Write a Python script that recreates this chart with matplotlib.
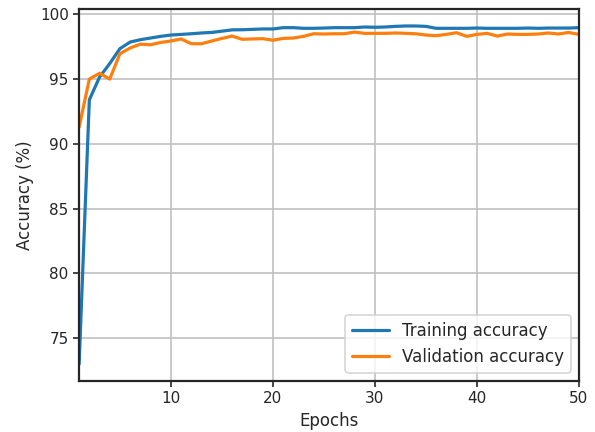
import numpy as np
import matplotlib
matplotlib.use("Agg")
import matplotlib.pyplot as plt
import seaborn as sns

sns.set_style("ticks", {"axes.grid": True})
sns.set_context("notebook")

epochs = list(range(1, 51))
train_acc = [73.0, 93.4, 95.15, 96.2, 97.35, 97.86, 98.04, 98.17, 98.3, 98.4,
             98.45, 98.5, 98.56, 98.6, 98.7, 98.8, 98.81, 98.84, 98.87, 98.87,
             98.97, 98.97, 98.92, 98.92, 98.94, 98.97, 98.97, 98.97, 99.02, 99.0,
             99.02, 99.07, 99.1, 99.1, 99.07, 98.92, 98.92, 98.92, 98.92, 98.94,
             98.92, 98.92, 98.92, 98.92, 98.94, 98.92, 98.94, 98.94, 98.94, 98.97]
val_acc = [91.3, 95.0, 95.45, 95.0, 96.96, 97.4, 97.7, 97.65, 97.83, 97.94,
           98.1, 97.73, 97.73, 97.94, 98.14, 98.32, 98.07, 98.1, 98.12, 98.0,
           98.14, 98.17, 98.3, 98.5, 98.48, 98.5, 98.5, 98.63, 98.53, 98.53,
           98.53, 98.56, 98.53, 98.5, 98.4, 98.35, 98.45, 98.58, 98.3, 98.45,
           98.53, 98.32, 98.48, 98.45, 98.45, 98.48, 98.56, 98.48, 98.6, 98.45]

fig, ax = plt.subplots(figsize=(5.95, 4.32), dpi=100)
ax.plot(epochs, train_acc, color="#1f77b4", lw=2.3, label="Training accuracy")
ax.plot(epochs, val_acc, color="#ff7f0e", lw=2.3, label="Validation accuracy")
ax.set_xlim(1, 50)
ax.set_xlabel("Epochs")
ax.set_ylabel("Accuracy (%)")
ax.set_yticks([75, 80, 85, 90, 95, 100])
ax.tick_params(direction="out", length=4, width=1.2)
for s in ax.spines.values():
    s.set_linewidth(1.6)
    s.set_color("#262626")
ax.grid(True, color="#c0c0c0", lw=1.2)
leg = ax.legend(loc="lower right", fancybox=True, fontsize=12, handlelength=2.2)
leg.get_frame().set_edgecolor("#d0d0d0")
leg.get_frame().set_linewidth(1.3)
fig.subplots_adjust(left=0.133, right=0.973, top=0.979, bottom=0.118)
fig.savefig("out.png")
